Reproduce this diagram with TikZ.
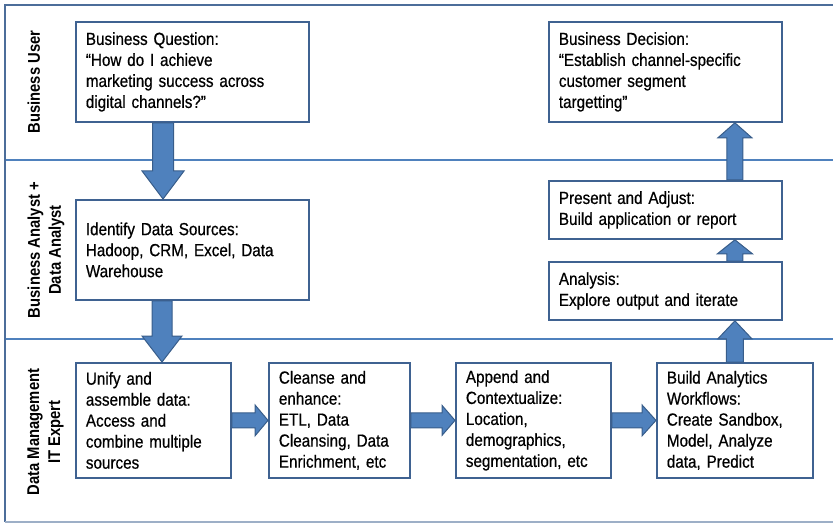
\documentclass[tikz,border=0pt]{standalone}
\usepackage{fontspec}
\setmainfont{Liberation Sans}[FakeStretch=0.87, UprightFeatures={FakeBold=0.6}]
\usetikzlibrary{calc}

\definecolor{boxline}{HTML}{3F6291}
\definecolor{arrowfill}{HTML}{4F81BD}
\definecolor{arrowline}{HTML}{385D8A}
\definecolor{laneline}{HTML}{4F81BD}
\definecolor{frameline}{HTML}{4C6D9A}

\tikzset{
  stepbox/.style={draw=boxline, line width=1.8pt, fill=white, anchor=north west,
    align=left, inner xsep=10pt, inner ysep=0pt, font=\fontsize{17.5}{21}\selectfont},
  lanetext/.style={rotate=90, anchor=north, align=center,
    font=\fontsize{17}{21}\selectfont\bfseries},
  fatarrow/.style={fill=arrowfill, draw=arrowline, line width=1pt, line join=miter}
}

% block arrow: from, to, shaft half-width, head half-width, head length (in pt)
\newcommand{\blockarrow}[5]{%
  \path (#1) coordinate (fa-s) (#2) coordinate (fa-t);
  \path ($(fa-t)!#5pt!(fa-s)$) coordinate (fa-h);
  \draw[fatarrow] ($(fa-s)!#3pt!90:(fa-t)$) -- ($(fa-h)!#3pt!90:(fa-t)$)
    -- ($(fa-h)!#4pt!90:(fa-t)$) -- (fa-t) -- ($(fa-h)!#4pt!-90:(fa-t)$)
    -- ($(fa-h)!#3pt!-90:(fa-t)$) -- ($(fa-s)!#3pt!-90:(fa-t)$) -- cycle;
}

\begin{document}
\begin{tikzpicture}[x=1pt, y=-1pt]
  \useasboundingbox (0,0) rectangle (833,524);

  % Swim lanes
  \draw[laneline, line width=1.2pt] (5,160) -- (833,160);
  \draw[laneline, line width=1.2pt] (5,339) -- (833,339);
  \draw[frameline, line width=1.8pt] (833,5) -- (5,5) -- (5,522);
  \draw[frameline!55, line width=1.5pt] (5,522) -- (833,522);

  \node[lanetext] (user) at (24,82) {Business User};
  \node[lanetext] (analyst) at (24,250) {Business Analyst +\\Data Analyst};
  \node[lanetext] (expert) at (24,432) {Data Management\\IT Expert};

  % Process steps
  \node[stepbox, minimum width=233pt, minimum height=100pt, text width=213pt]
    (q) at (75,21) {Business Question:\\“How do I achieve\\marketing success across\\digital channels?”};
  \node[stepbox, minimum width=233pt, minimum height=100pt, text width=213pt]
    (ds) at (75,199) {Identify Data Sources:\\Hadoop, CRM, Excel, Data\\Warehouse};
  \node[stepbox, minimum width=155pt, minimum height=115pt, text width=135pt]
    (ua) at (75,362) {Unify and\\assemble data:\\Access and\\combine multiple\\sources};
  \node[stepbox, minimum width=141pt, minimum height=115pt, text width=121pt]
    (ce) at (268,362) {Cleanse and\\enhance:\\ETL, Data\\Cleansing, Data\\Enrichment, etc};
  \node[stepbox, minimum width=155pt, minimum height=115pt, text width=135pt]
    (ac) at (455,362) {Append and\\Contextualize:\\Location,\\demographics,\\segmentation, etc};
  \node[stepbox, minimum width=156pt, minimum height=115pt, text width=136pt]
    (ba) at (656,362) {Build Analytics\\Workflows:\\Create Sandbox,\\Model, Analyze\\data, Predict};
  \node[stepbox, minimum width=233pt, minimum height=58pt, text width=213pt]
    (an) at (548,261) {Analysis:\\Explore output and iterate};
  \node[stepbox, minimum width=233pt, minimum height=58pt, text width=213pt]
    (pa) at (548,180) {Present and Adjust:\\Build application or report};
  \node[stepbox, minimum width=233pt, minimum height=100pt, text width=213pt]
    (bd) at (548,21) {Business Decision:\\“Establish channel-specific\\customer segment\\targetting”};

  % Flow
  \blockarrow{$(q.south west)+(88,0)$}{$(ds.north west)+(88,0)$}{10.5}{21}{28}
  \blockarrow{$(ds.south west)+(87,0)$}{$(ua.north west)+(87,0)$}{10}{20}{26}
  \blockarrow{ua.east}{ce.west}{7.5}{15.5}{13}
  \blockarrow{ce.east}{ac.west}{7.5}{15}{13}
  \blockarrow{ac.east}{ba.west}{7.5}{15.5}{14}
  \blockarrow{ba.north}{an.south -| ba.north}{8.5}{17}{18}
  \blockarrow{an.north -| ba.north}{pa.south -| ba.north}{8}{17.5}{14}
  \blockarrow{pa.north -| ba.north}{bd.south -| ba.north}{8}{17}{15}
\end{tikzpicture}
\end{document}
